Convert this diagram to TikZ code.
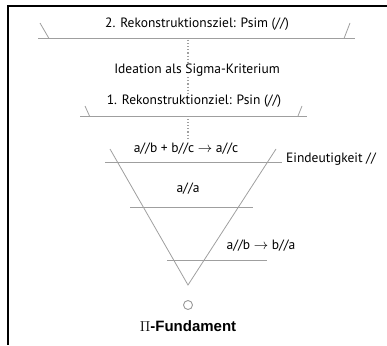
\documentclass[tikz,border=0pt]{standalone}
\usepackage{fontspec}
\setsansfont{PT Sans}
\newfontfamily\arialfont{Liberation Sans}
\begin{document}
\begin{tikzpicture}[
    x=1pt, y=-1pt,
    frame/.style={draw=black, line width=1.3pt},
    bar/.style={draw=gray!75, line width=0.8pt},
    guide/.style={draw=gray!75, dotted, line width=1.1pt},
    lbl/.style={font=\sffamily\fontsize{13.5}{15}\selectfont, inner sep=1pt},
    fund/.style={circle, draw=gray!80, line width=0.9pt, inner sep=0pt, minimum size=9pt},
]
\useasboundingbox (0,0) rectangle (387,345);

% ---- Achse ----
\def\Mid{188}
\def\Apex{285}

% ---- Rahmen ----
\draw[frame] (387,6) -- (8,6) -- (8,345);

% ---- Punktlinien ----
\coordinate (guideA) at (\Mid,40);
\coordinate (guideB) at (\Mid,93);
\coordinate (guideC) at (\Mid,119);
\coordinate (guideD) at (\Mid,139);
\draw[guide] (guideA) -- (guideB);
\draw[guide] (guideC) -- (guideD);

% ---- 2. Rekonstruktionsziel ----
\draw[bar] (38,38.5) -- (355,38.5);
\draw[bar] (40,23) -- (49,38.5);
\draw[bar] (350,23) -- (344,38.5);
\node[lbl] (zielzwei) at (197,24) {2. Rekonstruktionsziel: Psim (//)};

% ---- Sigma ----
\node[lbl, fill=white] (ideation) at (197,70) {Ideation als Sigma-Kriterium};

% ---- 1. Rekonstruktionziel ----
\draw[bar] (80,116) -- (307,116);
\draw[bar] (85,106) -- (89.5,116);
\draw[bar] (302,106) -- (298,116);
\node[lbl, fill=white] (zieleins) at (194,101) {1. Rekonstruktionziel: Psin (//)};

% ---- Trichter ----
\coordinate (apex) at (\Mid,\Apex);
\draw[bar] (110,149) -- (apex) -- (276,149);
\draw[bar] (105,162) -- (282,162);
\draw[bar] (130,207) -- (253,207);
\draw[bar] (167,260) -- (267,260);

% ---- Regeln ----
\node[lbl] (transitiv) at (186,149) {a//b + b//c $\rightarrow$ a//c};
\node[lbl, anchor=west] (eindeutig) at (285,159) {Eindeutigkeit //};
\node[lbl] (reflexiv) at (\Mid,189) {a//a};
\node[lbl] (symmetrisch) at (261,246) {a//b $\rightarrow$ b//a};

% ---- Fundament ----
\node[fund] (punkt) at (\Mid,305) {};
\node[font=\arialfont\bfseries\fontsize{15}{17}\selectfont] (fundament) at (\Mid,326) {$\Pi$-Fundament};

\end{tikzpicture}
\end{document}
